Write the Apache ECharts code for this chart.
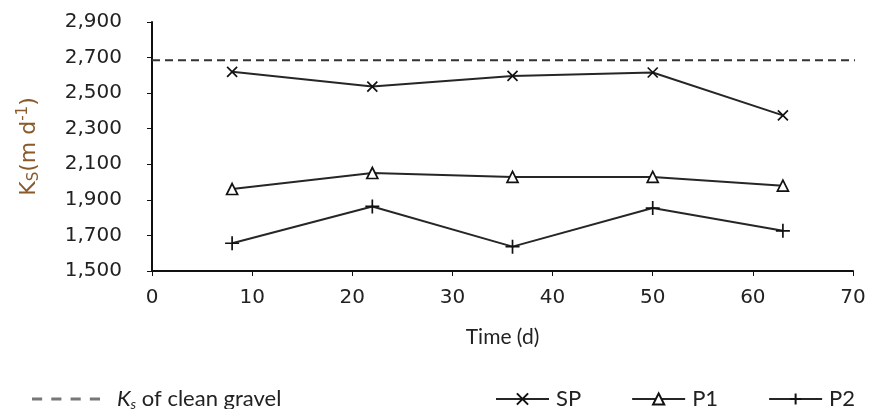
<!DOCTYPE html>
<html>
<head>
<meta charset="utf-8">
<script src="https://cdn.jsdelivr.net/npm/echarts@6/dist/echarts.min.js"></script>
<style>
  html, body { margin: 0; padding: 0; background: #fff; }
  #chart { width: 878px; height: 409px; }
</style>
</head>
<body>
<div id="chart"></div>
<script>
  // time (d) of each sampling
  var days = [8, 22, 36, 50, 63]
  var spValues = [2620, 2537, 2597, 2616, 2375]
  var p1Values = [1961, 2051, 2029, 2029, 1980]
  var p2Values = [1656, 1863, 1637, 1854, 1726]
  // Ks of clean gravel (reference line)
  var gravelKs = 2685
  var gravelSpan = [0, 71.2]

  var yTicks = { min: 1500, max: 2900, step: 200 }
  var xTicks = { min: 0, max: 70, step: 10 }

  var lineColor = '#262626'
  var crossPath = 'path://M0,0L10,10M10,0L0,10'
  var plusPath = 'path://M5,0L5,10M0,5L10,5'
  // four short dashes for the legend of the reference line
  var dashIcon = 'path://M0,0h10v3h-10z M19,0h10v3h-10z M38,0h10v3h-10z M57,0h10v3h-10z'

  function pairs (xs, ys) {
    return xs.map(function (x, i) { return [x, ys[i]] })
  }

  function markSeries (name, values, symbol, size) {
    return {
      name: name,
      type: 'line',
      data: pairs(days, values),
      symbol: symbol,
      symbolSize: size,
      showAllSymbol: true,
      lineStyle: { color: lineColor, width: 2 },
      itemStyle: { color: '#fff', borderColor: '#111', borderWidth: 1.7 },
      z: 3
    }
  }

  var chart = echarts.init(document.getElementById('chart'))
  var option = {
    animation: false,
    grid: { left: 152, right: 25, top: 22, bottom: 138 },
    legend: [{
      left: 27,
      top: 383,
      itemWidth: 68,
      itemHeight: 14,
      data: [{ name: 'gravel', icon: dashIcon }],
      itemStyle: { color: '#777', borderWidth: 0 },
      lineStyle: { width: 0 },
      formatter: function () {
        return '{i|K}{s|s}{t| of clean gravel}'
      },
      textStyle: {
        rich: {
          i: { fontFamily: 'Lato', fontStyle: 'italic', fontSize: 22, color: '#222', lineHeight: 24, padding: [0, 0, 0, 12] },
          s: { fontFamily: 'Lato', fontStyle: 'italic', fontSize: 14, color: '#222', lineHeight: 14, verticalAlign: 'bottom' },
          t: { fontFamily: 'Lato', fontSize: 22, color: '#222', lineHeight: 24 }
        }
      }
    }, {
      left: 490,
      top: 383,
      itemWidth: 53,
      itemHeight: 14,
      itemGap: 50,
      data: ['SP', 'P1', 'P2'],
      textStyle: { fontFamily: 'Lato', fontSize: 22, color: '#222', padding: [0, 0, 0, 2] }
    }],
    xAxis: {
      type: 'value',
      min: xTicks.min,
      max: xTicks.max,
      interval: xTicks.step,
      name: 'Time (d)',
      nameLocation: 'middle',
      nameGap: 56,
      nameTextStyle: { fontFamily: 'Lato', fontSize: 21, color: '#222' },
      axisLine: { lineStyle: { color: '#111', width: 2 } },
      axisTick: { length: 5, lineStyle: { color: '#111', width: 1 } },
      axisLabel: { margin: 17, fontFamily: 'DejaVu Sans', fontSize: 20, color: '#222' },
      splitLine: { show: false }
    },
    yAxis: {
      type: 'value',
      min: yTicks.min,
      max: yTicks.max,
      interval: yTicks.step,
      name: '{n|K}{sub|S}{n|(m d}{sup|-1}{n|)}',
      nameLocation: 'middle',
      nameRotate: 90,
      nameGap: 110,
      nameTextStyle: {
        rich: {
          n: { fontFamily: 'DejaVu Sans', fontSize: 22, color: '#8b5a2b', lineHeight: 26 },
          sub: { fontFamily: 'DejaVu Sans', fontSize: 15, color: '#8b5a2b', lineHeight: 15, verticalAlign: 'bottom' },
          sup: { fontFamily: 'DejaVu Sans', fontSize: 15, color: '#8b5a2b', lineHeight: 15, verticalAlign: 'top' }
        }
      },
      axisLine: { show: true, lineStyle: { color: '#111', width: 2 } },
      axisTick: { show: true, length: 5, lineStyle: { color: '#111', width: 1 } },
      axisLabel: {
        margin: 30,
        fontFamily: 'DejaVu Sans',
        fontSize: 20,
        color: '#222',
        formatter: function (v) { return v.toLocaleString('en-US') }
      },
      splitLine: { show: false }
    },
    series: [
      {
        name: 'gravel',
        type: 'line',
        data: pairs(gravelSpan, [gravelKs, gravelKs]),
        symbol: 'none',
        clip: false,
        lineStyle: { color: '#333', width: 1.8, type: [8, 5] },
        itemStyle: { color: '#333' },
        z: 2
      },
      markSeries('SP', spValues, crossPath, 10),
      markSeries('P1', p1Values, 'triangle', 11),
      markSeries('P2', p2Values, plusPath, 14)
    ]
  }
  chart.setOption(option)
</script>
</body>
</html>
